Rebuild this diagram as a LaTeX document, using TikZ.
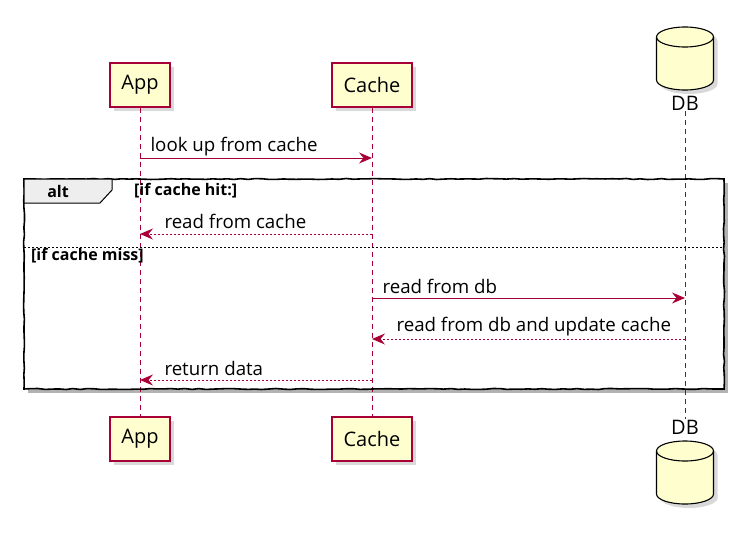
\documentclass[tikz,border=0pt]{standalone}
\usepackage{fontspec}
\setmainfont{Open Sans}
\usetikzlibrary{arrows.meta,shadows,decorations.pathmorphing}
\definecolor{umlred}{HTML}{A80036}
\definecolor{umlfill}{HTML}{FEFECE}
\definecolor{umltab}{HTML}{EEEEEE}
\newcommand\partfont{\fontsize{20}{24}\selectfont}
\newcommand\msgfont{\fontsize{18.7}{22}\selectfont}
\newcommand\guardfont{\fontsize{16}{19}\selectfont\bfseries}
% database drum, centre x and top y
\newcommand\dbdrum[2]{%
  \filldraw[drum] (#1-28.5,#2+10) arc[start angle=180,end angle=360,x radius=28.5,y radius=10]
    -- (#1+28.5,#2+53) arc[start angle=0,end angle=180,x radius=28.5,y radius=10] -- cycle;
  \draw[line width=1.1pt] (#1-28.5,#2+10) arc[start angle=180,end angle=0,x radius=28.5,y radius=10];}
\tikzset{
  party/.style={draw=umlred,fill=umlfill,line width=1.1pt,minimum height=44pt,
    font=\partfont,drop shadow={shadow xshift=4pt,shadow yshift=-4pt,opacity=0.3}},
  drum/.style={draw=black,fill=umlfill,line width=1.1pt,
    drop shadow={shadow xshift=4pt,shadow yshift=-4pt,opacity=0.3}},
  life/.style={draw=umlred,line width=0.8pt,dash pattern=on 5pt off 4pt},
  msg/.style={draw=umlred,line width=1pt,-{Stealth[length=13pt,width=11pt,inset=4.5pt]}},
  reply/.style={msg,dash pattern=on 2pt off 2pt},
  lbl/.style={font=\msgfont,inner sep=2pt},
  sketch/.style={decorate,decoration={random steps,segment length=7pt,amplitude=0.5pt}},
}
\begin{document}
\begin{tikzpicture}[x=1pt,y=-1pt]
\useasboundingbox (0,0) rectangle (754,535);
% participants
\node[party,minimum width=60pt] (app) at (140,85) {App};
\node[party,minimum width=80pt] (cache) at (372,85) {Cache};
\dbdrum{685}{27}
\node[font=\partfont,inner sep=1pt] (db) at (685,103) {DB};
\node[party,minimum width=60pt] (appB) at (140,439) {App};
\node[party,minimum width=80pt] (cacheB) at (372,439) {Cache};
\node[font=\partfont,inner sep=1pt] (dbB) at (685,427) {DB};
\dbdrum{685}{441}
% alt frame
\fill[black,opacity=0.3] (28,183) rectangle (728,393);
\fill[white] (24,179) rectangle (724,389);
% lifelines
\draw[life] (app) -- (appB);
\draw[life] (cache) -- (cacheB);
\draw[life] (db) -- (dbB);
\draw[line width=1.6pt,sketch] (24,179) rectangle (724,389);
\filldraw[fill=umltab,draw=black,line width=1pt] (24,179) -- (112,179) -- (112,190)
  -- (100,203) -- (24,203) -- cycle;
\node[font=\guardfont] (alt) at (58,191) {alt};
\node[font=\guardfont,anchor=west,inner sep=0pt] (hit) at (134,191) {[if cache hit:]};
\draw[line width=0.9pt,dash pattern=on 2pt off 2pt] (24,247) -- (724,247);
\node[font=\guardfont,anchor=west,inner sep=0pt] (miss) at (31,256) {[if cache miss]};
% rows of messages
\coordinate (r1) at (0,158);
\coordinate (r2) at (0,234);
\coordinate (r3) at (0,298);
\coordinate (r4) at (0,339);
\coordinate (r5) at (0,380);
\draw[msg] (app |- r1) -- (cache |- r1)
  node[lbl,at start,anchor=south west,xshift=8pt] {look up from cache};
\draw[reply] (cache |- r2) -- (app |- r2)
  node[lbl,at end,anchor=south west,xshift=22pt,yshift=3pt] {read from cache};
\draw[msg] (cache |- r3) -- (db |- r3)
  node[lbl,at start,anchor=south west,xshift=8pt,yshift=2pt] {read from db};
\draw[reply] (db |- r4) -- (cache |- r4)
  node[lbl,at end,anchor=south west,xshift=22pt,yshift=1pt] {read from db and update cache};
\draw[reply] (cache |- r5) -- (app |- r5)
  node[lbl,at end,anchor=south west,xshift=22pt,yshift=2pt] {return data};
\end{tikzpicture}
\end{document}
